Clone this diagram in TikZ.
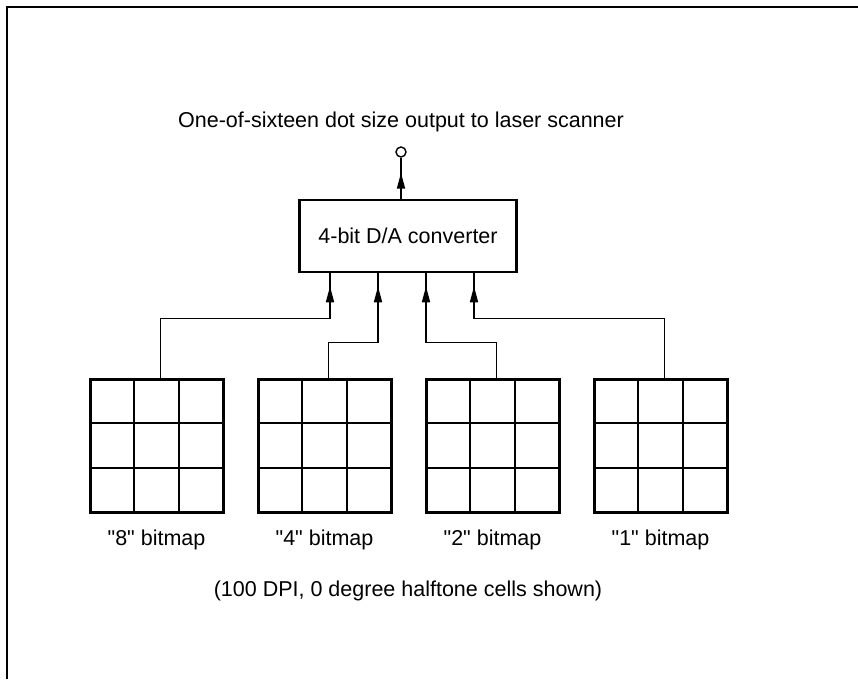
\documentclass[tikz,border=0pt]{standalone}
\usepackage{fontspec}
\setmainfont{Liberation Sans}
\usetikzlibrary{arrows.meta,decorations.markings,calc}
\newcommand{\strq}{\XeTeXglyph\XeTeXcharglyph"22\relax}
\tikzset{
  txt/.style={inner sep=0pt, font=\fontsize{21.5}{25}\selectfont},
  dabox/.style={draw, line width=2.6pt, minimum width=217pt, minimum height=72pt, inner sep=0pt, font=\fontsize{21.5}{25}\selectfont},
  bitmap/.style={draw, line width=3pt, minimum width=133pt, minimum height=133pt, inner sep=0pt},
  gridline/.style={line width=1.8pt},
  conn/.style={line width=1.7pt},
  tipmark/.style={postaction={decorate, decoration={markings, mark=at position #1 with {\arrow{Triangle[length=16pt,width=8pt]}}}}},
  terminal/.style={circle, draw, line width=1.4pt, minimum size=10pt, inner sep=0pt, fill=white}
}
\begin{document}
\begin{tikzpicture}[x=1pt,y=-1pt]
\useasboundingbox (0,0) rectangle (858,679);
% frame
\draw[line width=2pt] (7,679) -- (7,7) -- (858,7);
% title and output terminal
\node[txt] (title) at (401,122) {One-of-sixteen dot size output to laser scanner};
\node[terminal] (out) at (401,152) {};
% converter box
\node[dabox] (box) at (408,236) {4-bit D/A converter};
\coordinate (o0) at (box.north -| out);
\draw[conn, tipmark=-15pt] (o0) -- (out.south);
% bitmaps
\foreach \i/\x/\lab in {1/90/8, 2/258/4, 3/426/2, 4/594/1} {
  \node[bitmap] (bm\i) at (\x+66.5,445.5) {};
  \draw[gridline] ($(bm\i.north west)!1/3!(bm\i.north east)$) -- ($(bm\i.south west)!1/3!(bm\i.south east)$);
  \draw[gridline] ($(bm\i.north west)!2/3!(bm\i.north east)$) -- ($(bm\i.south west)!2/3!(bm\i.south east)$);
  \draw[gridline] ($(bm\i.north west)!1/3!(bm\i.south west)$) -- ($(bm\i.north east)!1/3!(bm\i.south east)$);
  \draw[gridline] ($(bm\i.north west)!2/3!(bm\i.south west)$) -- ($(bm\i.north east)!2/3!(bm\i.south east)$);
  \node[txt] (lab\i) at (\x+66.5,540) {\strq\lab\strq{} bitmap};
}
% caption
\node[txt] (caption) at (408,591) {(100 DPI, 0 degree halftone cells shown)};
% connection points
\coordinate (s1) at ($(bm1.north west)+(72,0)$);
\coordinate (s2) at ($(bm2.north west)+(72,0)$);
\coordinate (s3) at ($(bm3.north west)+(72,0)$);
\coordinate (s4) at ($(bm4.north west)+(72,0)$);
\coordinate (i1) at (box.south -| 330,0);
\coordinate (i2) at (box.south -| 378,0);
\coordinate (i3) at (box.south -| 426,0);
\coordinate (i4) at (box.south -| 474,0);
\draw[conn, tipmark=-13pt] (s1) -- ++(0,-59) -| (i1);
\draw[conn, tipmark=-13pt] (s2) -- ++(0,-35) -| (i2);
\draw[conn, tipmark=-13pt] (s3) -- ++(0,-35) -| (i3);
\draw[conn, tipmark=-13pt] (s4) -- ++(0,-59) -| (i4);
\end{tikzpicture}
\end{document}
